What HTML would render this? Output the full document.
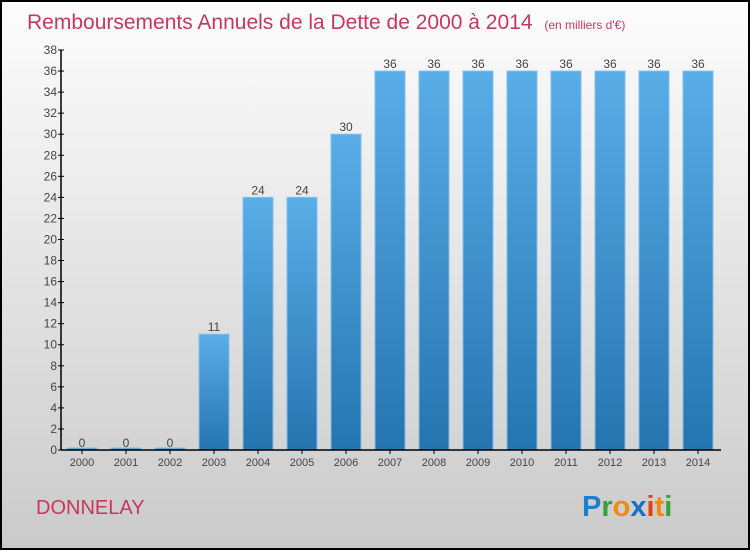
<!DOCTYPE html>
<html><head><meta charset="utf-8"><style>
body{margin:0}
svg text{font-family:"Liberation Sans",sans-serif}
</style></head><body>
<svg id="c" width="750" height="550" xmlns="http://www.w3.org/2000/svg">
<defs>
<linearGradient id="bg" x1="0" y1="0" x2="0" y2="1"><stop offset="0" stop-color="#fdfdfd"/><stop offset="1" stop-color="#cacaca"/></linearGradient>
<linearGradient id="bar" x1="0" y1="0" x2="0" y2="1"><stop offset="0" stop-color="#5aaee8"/><stop offset="1" stop-color="#2474b0"/></linearGradient>
</defs>
<rect x="1" y="1" width="748" height="548" fill="url(#bg)" stroke="#000" stroke-width="2"/>
<text x="27" y="29" font-size="21" fill="#c8365f">Remboursements Annuels de la Dette de 2000 à 2014 <tspan font-size="12" dx="6">(en milliers d'€)</tspan></text>
<text x="36" y="514" font-size="20" fill="#c8365f">DONNELAY</text>
<text x="582" y="516" font-size="29" font-weight="bold"><tspan fill="#1a7fd0">P</tspan><tspan fill="#3aa03a">r</tspan><tspan fill="#f08a10">o</tspan><tspan fill="#1a6fc0">x</tspan><tspan fill="#e84010">i</tspan><tspan fill="#f08a10">t</tspan><tspan fill="#3aa03a">i</tspan></text>
<g id="plot"></g>
</svg>
<script>
const years=["2000","2001","2002","2003","2004","2005","2006","2007","2008","2009","2010","2011","2012","2013","2014"];
const values=[0,0,0,11,24,24,30,36,36,36,36,36,36,36,36];
const yTicks=[0,2,4,6,8,10,12,14,16,18,20,22,24,26,28,30,32,34,36,38];
const ns="http://www.w3.org/2000/svg";
const g=document.getElementById('plot');
const y0=450,yTop=50,yMax=38,x0=61,xEnd=721,step=44,bw=30;
const ys=v=>y0-(v/yMax)*(y0-yTop);
const xc=i=>82+i*step;
function mk(t,a){const e=document.createElementNS(ns,t);for(const k in a)e.setAttribute(k,a[k]);g.appendChild(e);return e;}
values.forEach((v,i)=>{
 const h=Math.max(y0-ys(v),2);
 const r=mk('rect',{x:xc(i)-bw/2,y:y0-h,width:bw,height:h,fill:'url(#bar)',stroke:'#7ec0ee','stroke-width':1});
 
 
 const t=mk('text',{x:xc(i),y:ys(v)-3,'font-size':12,fill:'#444','text-anchor':'middle'});
 t.textContent=v;
 
 
 const tk=mk('line',{x1:xc(i),x2:xc(i),y1:y0,y2:y0+4,stroke:'#000'});
 
 
 const xl=mk('text',{x:xc(i),y:y0+16,'font-size':11,fill:'#444','text-anchor':'middle'});
 xl.textContent=years[i];
 
 
});
yTicks.forEach(v=>{
 const tk=mk('line',{x1:x0-3,x2:x0+3,y1:ys(v),y2:ys(v),stroke:'#000'});
 
 
 const l=mk('text',{x:x0-4,y:ys(v)+4,'font-size':12,fill:'#444','text-anchor':'end'});
 l.textContent=v;
 
 
});
const ya=mk('line',{x1:x0,x2:x0,y1:yTop,y2:y0,stroke:'#000','stroke-width':1.5});


const xa=mk('line',{x1:x0,x2:xEnd,y1:y0,y2:y0,stroke:'#000','stroke-width':1.5});


</script>
</body></html>
